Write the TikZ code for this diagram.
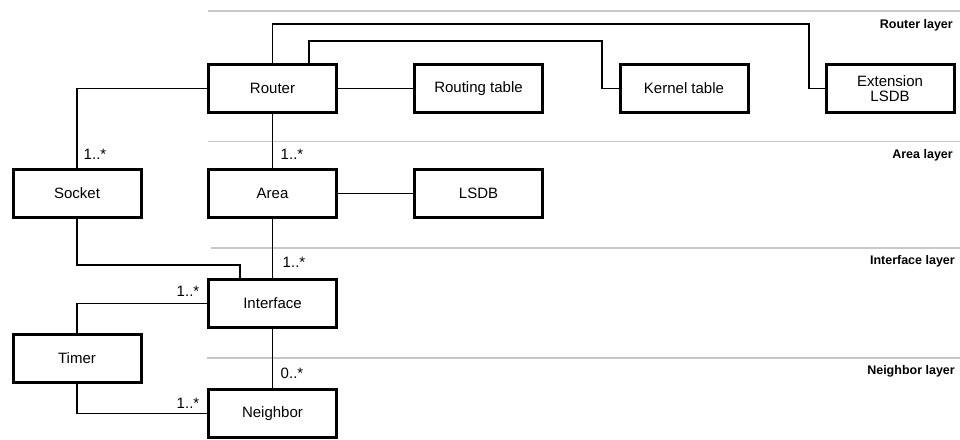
\documentclass[tikz,border=0pt]{standalone}
\usepackage{fontspec}
\setmainfont{Liberation Sans}
\begin{document}
\begin{tikzpicture}[x=1pt,y=-1pt,
  box/.style={draw=black,line width=3pt,minimum width=128pt,minimum height=48pt,inner sep=0pt,align=center,font=\fontsize{15}{17}\selectfont},
  conn/.style={draw=black,line width=1.3pt},
  layerline/.style={draw={rgb,255:red,200;green,200;blue,200},line width=1.6pt},
  layerlabel/.style={anchor=east,inner sep=0pt,font=\fontsize{12.5}{14}\selectfont\bfseries},
  mult/.style={inner sep=0pt,font=\fontsize{15}{17}\selectfont}]
\useasboundingbox (0,0) rectangle (960,439);
% layer lines
\draw[layerline] (208,11) -- (960,11);
\draw[layerline] (208,141.5) -- (960,141.5);
\draw[layerline] (211,248) -- (960,248);
\draw[layerline] (207,358) -- (960,358);
\node[layerlabel] (lr) at (953,25) {Router layer};
\node[layerlabel] (la) at (953,155) {Area layer};
\node[layerlabel] (li) at (955,261) {Interface layer};
\node[layerlabel] (ln) at (955,371) {Neighbor layer};
% nodes
\node[box] (router) at (272.5,88.5) {Router};
\node[box] (routing) at (478.5,88.5) {Routing table};
\node[box] (kernel) at (684,88.5) {Kernel table};
\node[box] (ext) at (890,88.5) {Extension\\[-2pt]LSDB};
\node[box] (socket) at (77,193.5) {Socket};
\node[box] (area) at (272.5,193.5) {Area};
\node[box] (lsdb) at (478.5,193.5) {LSDB};
\node[box] (interface) at (272.5,303.5) {Interface};
\node[box] (timer) at (77,358.5) {Timer};
\node[box] (neighbor) at (272.5,413.5) {Neighbor};
% connectors
\coordinate (c1) at (809,24);
\coordinate (c2) at (602,41);
\coordinate (c3) at (240,265);
\draw[conn] (router.north) |- (c1) |- (ext.west);
\draw[conn] ([xshift=36.5pt]router.north) |- (c2) |- (kernel.west);
\draw[conn] (router.east) -- (routing.west);
\draw[conn] (router.west) -| (socket.north);
\draw[conn] (router.south) -- (area.north);
\draw[conn] (area.east) -- (lsdb.west);
\draw[conn] (area.south) -- (interface.north);
\draw[conn] (socket.south) |- (c3) -- (c3 |- interface.north);
\draw[conn] (interface.west) -| (timer.north);
\draw[conn] (interface.south) -- (neighbor.north);
\draw[conn] (timer.south) |- (neighbor.west);
% multiplicities
\node[mult] (m1) at (95,154) {1..*};
\node[mult] (m2) at (292,154) {1..*};
\node[mult] (m3) at (294,262) {1..*};
\node[mult] (m4) at (188,291) {1..*};
\node[mult] (m5) at (292,373) {0..*};
\node[mult] (m6) at (188,403) {1..*};
\end{tikzpicture}
\end{document}
